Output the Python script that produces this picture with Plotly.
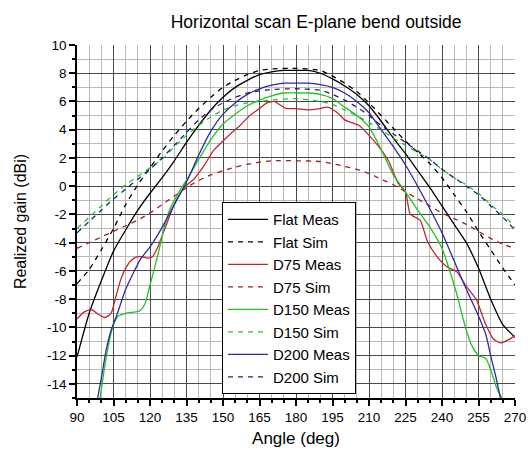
import plotly.graph_objects as go

# ---- data ----
flat_meas_x = [90, 95, 100, 105, 110, 115, 120, 125, 130, 135, 140, 145, 150, 155, 160, 165, 170, 175, 180, 185, 190, 195, 200, 205, 210, 215, 220, 225, 230, 235, 240, 245, 250, 255, 260, 265, 270]
flat_meas_y = [-12.1, -9.0, -6.7, -4.6, -3.1, -1.7, -0.5, 0.6, 1.8, 3.1, 4.3, 5.4, 6.3, 7.0, 7.5, 7.9, 8.1, 8.2, 8.2, 8.2, 8.0, 7.6, 7.1, 6.5, 5.7, 4.6, 3.4, 2.3, 1.1, -0.1, -1.4, -2.7, -4.0, -5.8, -8.0, -9.8, -10.7]

flat_sim_x = [90, 95, 100, 105, 110, 115, 120, 125, 130, 135, 140, 145, 150, 155, 160, 165, 170, 180, 190, 195, 200, 205, 210, 215, 220, 225, 230, 235, 240, 245, 250, 255, 260, 265, 270]
flat_sim_y = [-6.9, -5.9, -4.5, -3.0, -1.3, 0.1, 1.3, 2.5, 3.6, 4.6, 5.5, 6.3, 7.0, 7.5, 7.9, 8.2, 8.3, 8.35, 8.2, 7.8, 7.3, 6.7, 5.9, 5.0, 4.1, 3.2, 2.4, 1.6, 0.6, -0.6, -1.8, -3.2, -4.5, -5.8, -7.0]

d75_meas_x = [90, 93, 96, 99, 101.5, 104, 106, 108, 110, 112, 114.5, 117, 119, 121, 123, 125, 127, 130, 134, 138, 142, 146, 150, 153, 157, 161, 165, 168, 171, 173, 176, 180, 185, 190, 193, 197, 200, 203, 206, 210, 214, 218, 222, 225, 227, 231, 234, 238, 242, 246, 250, 254, 258, 261, 264, 267, 270]
d75_meas_y = [-9.4, -8.9, -8.75, -9.1, -9.3, -9.0, -7.8, -6.6, -5.8, -5.3, -5.0, -5.0, -5.1, -5.0, -4.4, -3.5, -2.6, -1.3, -0.1, 0.5, 1.4, 2.5, 3.2, 3.7, 4.3, 5.0, 5.5, 5.9, 6.0, 5.8, 5.5, 5.5, 5.4, 5.5, 5.6, 5.2, 4.7, 4.5, 4.3, 3.6, 2.8, 1.8, 0.2, -0.4, -2.0, -2.4, -3.9, -5.0, -5.7, -6.05, -7.1, -8.0, -9.8, -10.8, -11.1, -10.9, -10.6]

d75_sim_x = [90, 95, 100, 105, 110, 115, 120, 125, 130, 135, 140, 145, 150, 155, 160, 165, 170, 180, 190, 195, 200, 205, 210, 215, 220, 225, 230, 235, 240, 245, 250, 255, 260, 265, 270]
d75_sim_y = [-4.4, -4.0, -3.6, -3.2, -2.8, -2.4, -1.9, -1.3, -0.7, -0.1, 0.4, 0.8, 1.1, 1.35, 1.55, 1.7, 1.8, 1.8, 1.75, 1.6, 1.4, 1.2, 0.9, 0.5, 0.1, -0.4, -0.9, -1.4, -1.9, -2.3, -2.7, -3.2, -3.7, -4.1, -4.4]

d150_meas_x = [99.5, 101, 103, 105, 107, 110, 114, 116, 118, 120, 122, 124, 126, 128, 130, 133, 136, 140, 145, 150, 155, 160, 165, 170, 175, 180, 185, 190, 195, 200, 205, 210, 215, 220, 225, 230, 235, 240, 243, 246, 249, 252, 255, 258, 260, 262.5, 264.5]
d150_meas_y = [-15, -13.2, -11.2, -9.8, -9.2, -9.0, -8.9, -8.8, -8.3, -7.0, -5.7, -4.3, -2.8, -1.7, -1.0, -0.1, 0.7, 1.9, 3.3, 4.4, 5.1, 5.7, 6.1, 6.4, 6.6, 6.6, 6.6, 6.5, 6.2, 5.6, 5.0, 4.2, 2.6, 0.8, -0.4, -1.7, -2.9, -4.4, -5.9, -7.6, -9.6, -11.2, -12.0, -12.2, -13.0, -14.3, -15]

d150_sim_x = [90, 95, 100, 105, 110, 115, 120, 125, 130, 135, 140, 145, 150, 155, 160, 170, 180, 190, 195, 200, 205, 210, 215, 220, 225, 230, 235, 240, 245, 250, 255, 260, 265, 270]
d150_sim_y = [-3.0, -2.2, -1.4, -0.6, 0.1, 0.7, 1.3, 1.9, 2.8, 3.6, 4.3, 4.9, 5.4, 5.7, 5.9, 6.1, 6.2, 6.0, 5.8, 5.4, 5.0, 4.5, 4.0, 3.4, 2.9, 2.4, 1.9, 1.2, 0.6, 0.1, -0.5, -1.3, -2.0, -2.9]

d200_meas_x = [98.5, 100, 102, 104, 106, 108, 110, 113, 116, 120, 123, 126, 130, 135, 140, 145, 150, 155, 160, 165, 170, 175, 180, 185, 190, 195, 200, 205, 210, 215, 220, 225, 230, 235, 240, 245, 250, 255, 258, 260, 262, 264]
d200_meas_y = [-15, -13.6, -11.6, -10.2, -9.3, -8.3, -7.3, -6.2, -5.2, -4.3, -3.5, -2.6, -1.3, 0.3, 2.2, 3.9, 5.1, 5.9, 6.5, 6.9, 7.15, 7.3, 7.3, 7.3, 7.2, 7.0, 6.6, 6.0, 5.2, 4.0, 2.8, 1.5, 0.0, -1.6, -3.3, -5.3, -7.3, -9.2, -10.5, -12.0, -13.4, -15]

d200_sim_x = [90, 95, 100, 105, 110, 115, 120, 125, 130, 135, 140, 145, 150, 155, 160, 170, 180, 190, 195, 200, 205, 210, 215, 220, 225, 230, 235, 240, 245, 250, 255, 260, 265, 270]
d200_sim_y = [-3.3, -2.5, -1.7, -0.9, -0.2, 0.5, 1.2, 2.0, 2.9, 3.8, 4.7, 5.4, 5.9, 6.3, 6.6, 6.85, 6.9, 6.8, 6.5, 6.1, 5.6, 5.0, 4.3, 3.7, 3.1, 2.5, 1.9, 1.2, 0.6, 0.0, -0.6, -1.4, -2.2, -3.1]

x_ticks = [90, 105, 120, 135, 150, 165, 180, 195, 210, 225, 240, 255, 270]
y_ticks = [-14, -12, -10, -8, -6, -4, -2, 0, 2, 4, 6, 8, 10]

series = [
    ("Flat Meas", flat_meas_x, flat_meas_y, "#000000", "solid"),
    ("Flat Sim", flat_sim_x, flat_sim_y, "#000000", "5px,5px"),
    ("D75 Meas", d75_meas_x, d75_meas_y, "#c0272d", "solid"),
    ("D75 Sim", d75_sim_x, d75_sim_y, "#a31d1d", "5px,5px"),
    ("D150 Meas", d150_meas_x, d150_meas_y, "#22c422", "solid"),
    ("D150 Sim", d150_sim_x, d150_sim_y, "#22c422", "5px,5px"),
    ("D200 Meas", d200_meas_x, d200_meas_y, "#2b2ba6", "solid"),
    ("D200 Sim", d200_sim_x, d200_sim_y, "#22227a", "5px,5px"),
]

fig = go.Figure()
for name, xs, ys, col, dash in series:
    fig.add_trace(go.Scatter(
        x=xs, y=ys, name=name, mode="lines",
        line=dict(color=col, width=1.3, dash=dash, shape="spline", smoothing=0.6),
    ))

font_family = "Arial, Liberation Sans, sans-serif"
fig.update_layout(
    width=528, height=452,
    margin=dict(l=77, r=13, t=45, b=54, autoexpand=False),
    paper_bgcolor="white", plot_bgcolor="white",
    font=dict(family=font_family, size=14, color="black"),
    title=dict(text="Horizontal scan E-plane bend outside", x=0.546, xref="paper", xanchor="center",
               y=0.951, yanchor="middle", font=dict(size=17.5, color="black")),
    showlegend=True,
    legend=dict(x=0.331, y=0.555, xanchor="left", yanchor="top",
                bgcolor="white", bordercolor="black", borderwidth=1,
                font=dict(size=15, color="black"), itemwidth=40,
                tracegroupgap=0),
)
fig.update_xaxes(
    range=[90, 270], tickvals=x_ticks, ticktext=[str(v) for v in x_ticks],
    showline=True, linecolor="black", linewidth=1.5, ticks="outside", ticklen=6,
    tickcolor="black", tickwidth=1.5, tickfont=dict(size=13.5), automargin=False,
    showgrid=True, gridcolor="#4a4a4a", gridwidth=1.3, zeroline=False,
    minor=dict(dtick=5, tick0=90, ticks="outside", ticklen=3, tickcolor="black",
               showgrid=True, gridcolor="#b9b9b9", gridwidth=1),
    title=dict(text="Angle (deg)", font=dict(size=17), standoff=8),
)
fig.update_yaxes(
    range=[-15, 10], tickvals=y_ticks, ticktext=[str(v) for v in y_ticks],
    showline=True, linecolor="black", linewidth=1.5, ticks="outside", ticklen=6,
    tickcolor="black", tickwidth=1.5, tickfont=dict(size=13.5), automargin=False,
    showgrid=True, gridcolor="#4a4a4a", gridwidth=1.3, zeroline=False,
    minor=dict(dtick=1, tick0=0, ticks="outside", ticklen=3, tickcolor="black",
               showgrid=True, gridcolor="#b9b9b9", gridwidth=1),
    title=dict(text="Realized gain (dBi)", font=dict(size=16), standoff=16),
)

fig.write_html("out.html")
